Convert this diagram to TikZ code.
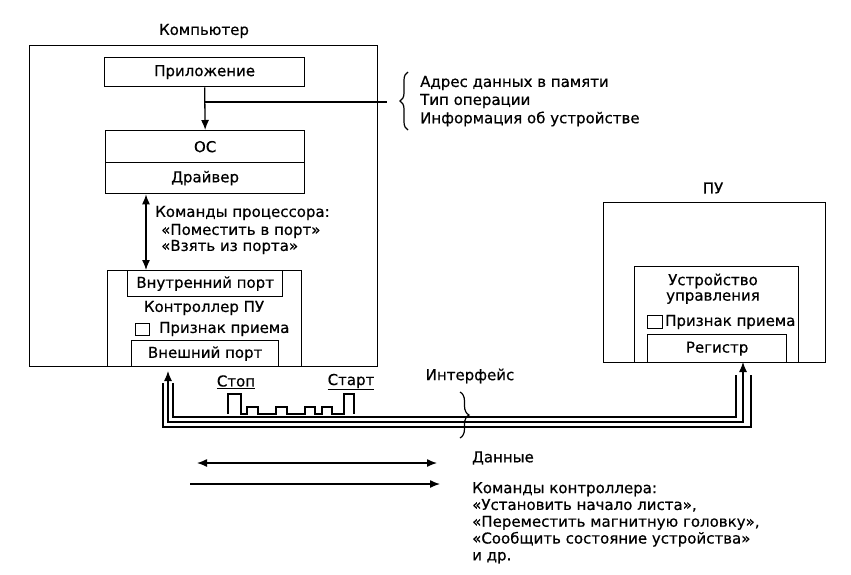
\documentclass[tikz,border=0pt]{standalone}
\usepackage{fontspec}
\newfontfamily\thickfont[FakeBold=0.5]{DejaVu Sans}
\usetikzlibrary{arrows.meta,decorations.pathreplacing}
\begin{document}
\begin{tikzpicture}[x=1pt,y=-1pt,
  every node/.style={font=\thickfont\fontsize{15}{16.8}\selectfont, inner sep=0pt},
  box/.style={draw, line width=1.3pt, anchor=north west},
  lbl/.style={anchor=center},
  lft/.style={anchor=west},
  ln/.style={line width=1.3pt},
  tip/.style={-{Latex[length=10pt,width=8pt]}},
  dtip/.style={{Latex[length=10pt,width=8pt]}-{Latex[length=10pt,width=8pt]}},
  brc/.style={decorate, line width=1.2pt}
]
\useasboundingbox (0,0) rectangle (851,574);

% Computer
\node[box, minimum width=348, minimum height=321] (comp) at (29,45) {};
\node[lbl] (complbl) at (204,31) {Компьютер};
\node[box, minimum width=200, minimum height=29] (app) at (104,57) {};
\node[lbl] (apptxt) at (app.center) {Приложение};
\node[box, minimum width=199, minimum height=32] (os) at (105,130) {};
\node[lbl] (ostxt) at (os.center) {ОС};
\node[box, minimum width=199, minimum height=31] (drv) at (105,162) {};
\node[lbl] (drvtxt) at (drv.center) {Драйвер};

\draw[ln, tip] (app.south) -- (os.north);
\coordinate (apparrow) at (204,102);
\coordinate (infoend) at (387,102);
\draw[ln] (apparrow) -- (infoend);
\coordinate (b1top) at (408,72);
\coordinate (b1bot) at (408,130);
\draw[brc, decoration={brace, amplitude=8pt}] (b1bot) -- (b1top);
\node[lft] (i1) at (420,83) {Адрес данных в памяти};
\node[lft] (i2) at (420,101) {Тип операции};
\node[lft] (i3) at (420,119) {Информация об устройстве};

% controller
\node[box, minimum width=194, minimum height=96] (ctrl) at (107,270) {};
\node[box, minimum width=155, minimum height=26] (inport) at (127,270) {};
\node[lbl] (inporttxt) at (inport.center) {Внутренний порт};
\node[lbl] (ctrltxt) at (204,308) {Контроллер ПУ};
\node[box, minimum width=14, minimum height=12] (chk1) at (135,323) {};
\node[lft] (chk1txt) at (159,329) {Признак приема};
\node[box, minimum width=147, minimum height=26] (export) at (131,340) {};
\node[lbl] (exporttxt) at (export.center) {Внешний порт};

\draw[ln, dtip] (drv.south -| 146,0) -- (ctrl.north -| 146,0);
\node[lft] (c1) at (155,213) {Команды процессора:};
\node[lft] (c2) at (161,231) {«Поместить в порт»};
\node[lft] (c3) at (161,247) {«Взять из порта»};

% ПУ
\node[box, minimum width=222, minimum height=160] (pu) at (603,202) {};
\node[lbl] (pulbl) at (713,188) {ПУ};
\node[box, minimum width=164, minimum height=96] (dev) at (634,266) {};
\node[lbl] (devtxt) at (713,281) {Устройство};
\node[lbl] (devtxt2) at (713,298) {управления};
\node[box, minimum width=15, minimum height=13] (chk2) at (647,315) {};
\node[lft] (chk2txt) at (665,322) {Признак приема};
\node[box, minimum width=139, minimum height=28] (reg) at (647,334) {};
\node[lbl] (regtxt) at (reg.center) {Регистр};

% interface cable
\coordinate (lTipIn) at (173,383);
\coordinate (lTipMid) at (168,371);
\coordinate (lTipOut) at (163,383);
\coordinate (rTipIn) at (736,375);
\coordinate (rTipMid) at (743,362);
\coordinate (rTipOut) at (751,375);
\draw[line width=1.1pt] (lTipIn) -- (173,417) -- (736,417) -- (rTipIn);
\draw[line width=1.1pt, dtip] (lTipMid) -- (168,422) -- (743,422) -- (rTipMid);
\draw[line width=1.1pt] (lTipOut) -- (163,427) -- (751,427) -- (rTipOut);

% waveform
\draw[line width=1.1pt] (228,414) -- (228,394) -- (241,394) -- (241,414) -- (247,414) -- (247,407) -- (258,407) -- (258,414) -- (276,414) -- (276,407) -- (287,407) -- (287,414) -- (305,414) -- (305,407) -- (315,407) -- (315,414) -- (322,414) -- (322,407) -- (332,407) -- (332,414) -- (344,414) -- (344,394) -- (354,394) -- (354,414);
\node[lbl] (stop) at (236,382) {\underline{Стоп}};
\node[lbl] (start) at (351,382) {\underline{Старт}};

% interface brace
\node[lbl] (iface) at (470,376) {Интерфейс};
\coordinate (b2top) at (460,392);
\coordinate (b2bot) at (460,438);
\draw[brc, decoration={brace, amplitude=9pt}] (b2top) -- (b2bot);

% legend
\coordinate (dA) at (197,463);
\coordinate (dB) at (437,463);
\draw[ln, dtip] (dA) -- (dB);
\coordinate (kA) at (190,484);
\coordinate (kB) at (440,484);
\draw[ln, tip] (kA) -- (kB);
\node[lft] (data) at (472,458) {Данные};
\node[lft, anchor=north west, align=left] (cmds) at (472,482) {Команды контроллера:\\«Установить начало листа»,\\«Переместить магнитную головку»,\\«Сообщить состояние устройства»\\и др.};
\end{tikzpicture}
\end{document}
